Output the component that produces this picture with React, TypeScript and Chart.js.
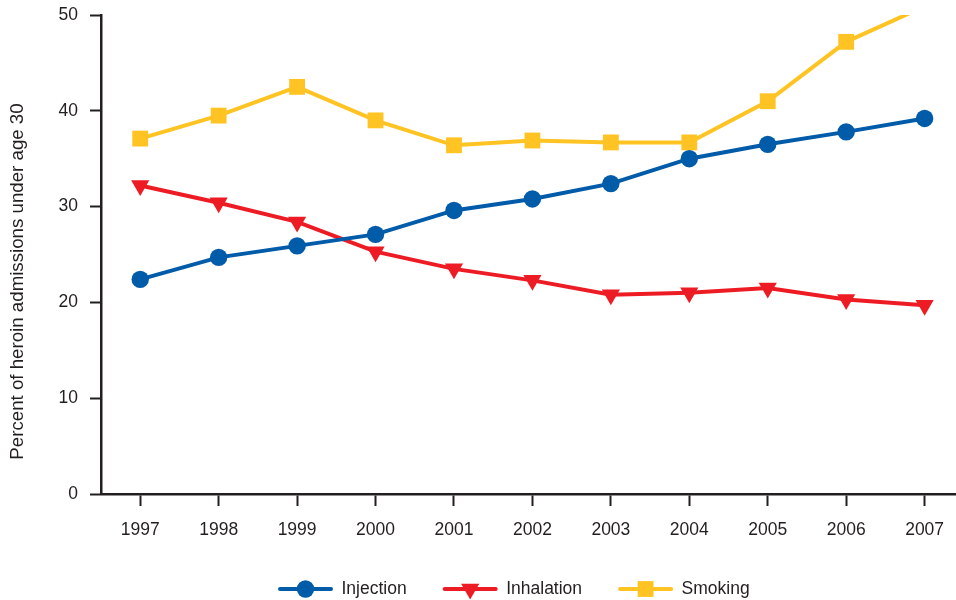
import React, { useEffect, useRef } from "react";
import { Chart, registerables } from "chart.js";

Chart.register(...registerables);

const years = [1997, 1998, 1999, 2000, 2001, 2002, 2003, 2004, 2005, 2006, 2007];
const injection = [22.4, 24.7, 25.9, 27.1, 29.6, 30.8, 32.4, 35.0, 36.5, 37.8, 39.2];
const inhalation = [32.2, 30.4, 28.4, 25.3, 23.5, 22.3, 20.8, 21.0, 21.5, 20.3, 19.7];
const smoking = [37.1, 39.5, 42.5, 39.0, 36.4, 36.9, 36.7, 36.7, 41.0, 47.2, 50.9];
const yTicks = [0, 10, 20, 30, 40, 50];
const yTitle = "Percent of heroin admissions under age 30";

const INK = "#231f20";
const FONT = "'Liberation Sans', Arial, Helvetica, sans-serif";
const BLUE = "#005ba9";
const RED = "#ed1c24";
const YELLOW = "#ffc423";

function drawMarker(ctx: CanvasRenderingContext2D, style: string, x: number, y: number, r: number, color: string) {
  ctx.save();
  ctx.fillStyle = color;
  ctx.beginPath();
  if (style === "circle") {
    ctx.arc(x, y, r, 0, Math.PI * 2);
  } else if (style === "triangle") {
    ctx.moveTo(x, y + r);
    ctx.lineTo(x - r * Math.sin(Math.PI / 3), y - r / 2);
    ctx.lineTo(x + r * Math.sin(Math.PI / 3), y - r / 2);
    ctx.closePath();
  } else {
    const s = r * Math.SQRT1_2;
    ctx.rect(x - s, y - s, 2 * s, 2 * s);
  }
  ctx.fill();
  ctx.restore();
}

const customPlugin = {
  id: "customDecor",
  afterDraw(chart: any) {
    const ctx: CanvasRenderingContext2D = chart.ctx;
    ctx.save();
    ctx.translate(18, 281.5);
    ctx.rotate(-Math.PI / 2);
    ctx.fillStyle = INK;
    ctx.font = `18.7px ${FONT}`;
    ctx.textAlign = "center";
    ctx.textBaseline = "middle";
    ctx.fillText(yTitle, 0, 0);
    ctx.restore();

    ctx.save();
    ctx.font = `17.5px ${FONT}`;
    ctx.textBaseline = "middle";
    ctx.textAlign = "left";
    const y = 589;
    let x = 280;
    const lineW = 51;
    const gapText = 10.5;
    const gapItem = 38;
    chart.data.datasets.forEach((ds: any) => {
      ctx.strokeStyle = ds.borderColor;
      ctx.lineWidth = 4;
      ctx.lineCap = "round";
      ctx.beginPath();
      ctx.moveTo(x, y);
      ctx.lineTo(x + lineW, y);
      ctx.stroke();
      drawMarker(ctx, ds.pointStyle, x + lineW / 2, y, ds.pointRadius, ds.pointBackgroundColor);
      ctx.fillStyle = INK;
      const tx = x + lineW + gapText;
      ctx.fillText(ds.label, tx, y);
      x = tx + ctx.measureText(ds.label).width + gapItem;
    });
    ctx.restore();
  },
};

export default function App() {
  const ref = useRef<HTMLCanvasElement | null>(null);

  useEffect(() => {
    if (!ref.current) return;
    const mk = (vals: number[]) => vals.map((v, i) => ({ x: years[i], y: v }));
    const chart = new Chart(ref.current, {
      type: "line",
      data: {
        datasets: [
          {
            label: "Injection",
            data: mk(injection),
            borderColor: BLUE,
            backgroundColor: BLUE,
            pointBackgroundColor: BLUE,
            pointBorderWidth: 0,
            pointStyle: "circle",
            pointRadius: 8.7,
            borderWidth: 4,
            tension: 0,
          },
          {
            label: "Inhalation",
            data: mk(inhalation),
            borderColor: RED,
            backgroundColor: RED,
            pointBackgroundColor: RED,
            pointBorderWidth: 0,
            pointStyle: "triangle",
            pointRotation: 180,
            pointRadius: 10.5,
            borderWidth: 4,
            tension: 0,
          },
          {
            label: "Smoking",
            data: mk(smoking),
            borderColor: YELLOW,
            backgroundColor: YELLOW,
            pointBackgroundColor: YELLOW,
            pointBorderWidth: 0,
            pointStyle: "rect",
            pointRadius: 11.2,
            borderWidth: 4,
            tension: 0,
          },
        ] as any,
      },
      options: {
        responsive: false,
        animation: false,
        devicePixelRatio: 1,
        layout: { autoPadding: false, padding: { top: 15, right: 0, bottom: 0, left: 0 } },
        plugins: {
          legend: { display: false },
          tooltip: { enabled: false },
        },
        scales: {
          x: {
            type: "linear",
            min: 1996.5,
            max: 2007.4,
            afterBuildTicks: (s: any) => {
              s.ticks = years.map((v) => ({ value: v }));
            },
            afterFit: (s: any) => {
              s.height = 106;
              s.paddingLeft = 0;
              s.paddingRight = 0;
            },
            border: { display: true, color: INK, width: 2.5 },
            grid: {
              display: true,
              drawOnChartArea: false,
              drawTicks: true,
              tickLength: 12,
              tickWidth: 2,
              tickColor: INK,
            },
            ticks: {
              color: INK,
              font: { family: FONT, size: 17.5 },
              padding: 14,
              maxRotation: 0,
              autoSkip: false,
              callback: (v: any) => String(v),
            },
          },
          y: {
            type: "linear",
            min: 0,
            max: 50,
            afterBuildTicks: (s: any) => {
              s.ticks = yTicks.map((v) => ({ value: v }));
            },
            afterFit: (s: any) => {
              s.width = 101;
              s.paddingTop = 0;
              s.paddingBottom = 0;
            },
            border: { display: true, color: INK, width: 2.5 },
            grid: {
              display: true,
              drawOnChartArea: false,
              drawTicks: true,
              tickLength: 11,
              tickWidth: 2,
              tickColor: INK,
            },
            ticks: {
              color: INK,
              font: { family: FONT, size: 17.5 },
              padding: 12,
            },
          },
        },
      },
      plugins: [customPlugin],
    });
    return () => chart.destroy();
  }, []);

  return (
    <div style={{ position: "fixed", left: 0, top: 0, width: 956, height: 600, background: "#fff" }}>
      <canvas ref={ref} width={956} height={600} style={{ display: "block", width: 956, height: 600 }} />
    </div>
  );
}
